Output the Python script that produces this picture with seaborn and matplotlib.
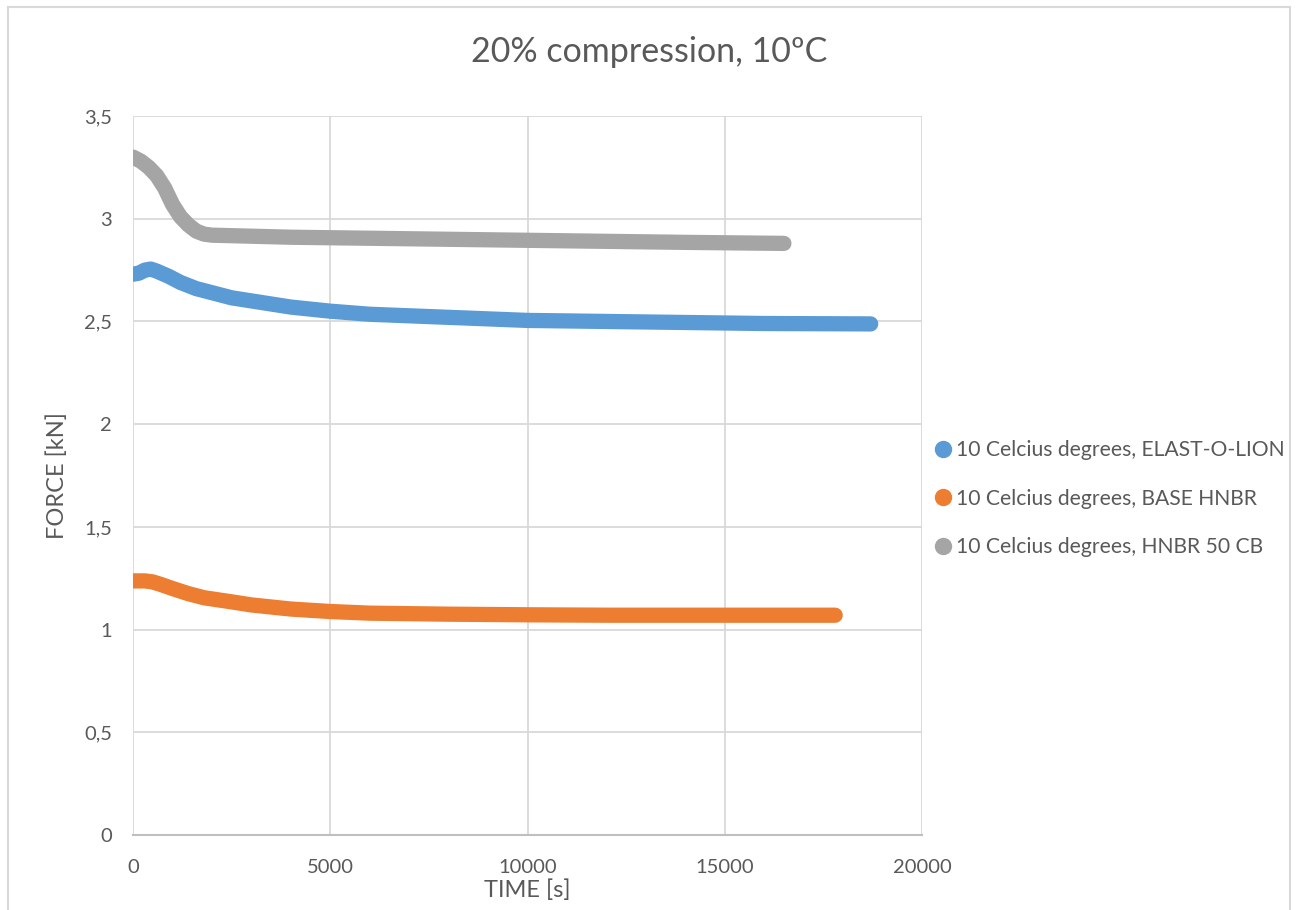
import matplotlib
matplotlib.use("Agg")
import matplotlib.pyplot as plt
from matplotlib.lines import Line2D
from matplotlib.patches import Rectangle
import pandas as pd
import seaborn as sns

# Relaxation data at 10 °C, 20 % compression
series_names = [
    "10 Celcius degrees, ELAST-O-LION",
    "10 Celcius degrees, BASE HNBR",
    "10 Celcius degrees, HNBR 50 CB",
]

elast_time = [0, 150, 300, 450, 600, 900, 1200, 1600, 2000, 2500, 3000, 3500,
              4000, 5000, 6000, 8000, 10000, 12000, 14000, 16000, 18700]
elast_force = [2.73, 2.735, 2.75, 2.755, 2.745, 2.72, 2.69, 2.66, 2.64, 2.615, 2.60,
               2.585, 2.57, 2.55, 2.535, 2.52, 2.505, 2.50, 2.495, 2.49, 2.488]

base_time = [0, 300, 500, 700, 1000, 1400, 1800, 2500, 3000, 4000, 5000, 6000,
             8000, 10000, 12000, 15000, 17800]
base_force = [1.237, 1.237, 1.232, 1.22, 1.20, 1.175, 1.155, 1.135, 1.12, 1.10,
              1.088, 1.08, 1.075, 1.072, 1.07, 1.07, 1.07]

cb_time = [0, 200, 400, 600, 800, 1000, 1200, 1400, 1600, 1800, 2000, 3000, 4000,
           6000, 8000, 10000, 12000, 14000, 16500]
cb_force = [3.30, 3.28, 3.25, 3.21, 3.15, 3.07, 3.01, 2.97, 2.94, 2.925, 2.92, 2.915,
            2.91, 2.905, 2.90, 2.895, 2.89, 2.885, 2.88]

x_ticks = [0, 5000, 10000, 15000, 20000]
y_ticks = [0, 0.5, 1, 1.5, 2, 2.5, 3, 3.5]
y_tick_labels = ["0", "0,5", "1", "1,5", "2", "2,5", "3", "3,5"]

colors = ["#5B9BD5", "#ED7D31", "#A5A5A5"]
text_color = "#595959"
grid_color = "#D9D9D9"

frames = []
for name, t, f in zip(series_names,
                      [elast_time, base_time, cb_time],
                      [elast_force, base_force, cb_force]):
    frames.append(pd.DataFrame({"time": t, "force": f, "series": name}))
df = pd.concat(frames, ignore_index=True)

sns.set_theme(style="white")
plt.rcParams["font.family"] = ["Lato", "DejaVu Sans"]

fig = plt.figure(figsize=(12.98, 9.10), dpi=100)
ax = fig.add_axes([0.1025, 0.0824, 0.6078, 0.7901])

sns.lineplot(data=df, x="time", y="force", hue="series", palette=colors,
             hue_order=series_names, linewidth=11, ax=ax, legend=False,
             sort=False, estimator=None)
for line in ax.lines:
    line.set_solid_capstyle("round")
    line.set_solid_joinstyle("round")

ax.set_xlim(0, 20000)
ax.set_ylim(0, 3.5)
ax.set_xticks(x_ticks)
ax.set_xticklabels([str(v) for v in x_ticks])
ax.set_yticks(y_ticks)
ax.set_yticklabels(y_tick_labels)
ax.grid(True, color=grid_color, linewidth=1.3)
ax.set_axisbelow(True)
for side in ["left", "right", "top"]:
    ax.spines[side].set_visible(False)
ax.spines["bottom"].set_color("#BFBFBF")
ax.spines["bottom"].set_linewidth(1.5)
ax.tick_params(axis="both", length=0, labelsize=14.5, labelcolor=text_color)
ax.tick_params(axis="x", pad=17.5)
ax.tick_params(axis="y", pad=15)

ax.set_xlabel("TIME [s]", fontsize=17, color=text_color, labelpad=2)
ax.set_ylabel("FORCE [kN]", fontsize=17, color=text_color, labelpad=12)

fig.text(0.5, 0.943, "20% compression, 10ºC", ha="center", va="center",
         fontsize=24.5, color=text_color)

handles = [Line2D([0], [0], marker="o", linestyle="none", markersize=11.5,
                  markerfacecolor=c, markeredgecolor=c) for c in colors]
fig.legend(handles, series_names, loc="center left",
           bbox_to_anchor=(0.710, 0.452), frameon=False, fontsize=15.2,
           labelcolor=text_color, handletextpad=0.05, labelspacing=1.35,
           handlelength=1.2, borderaxespad=0)

fig.patches.append(Rectangle((0.006, -0.01), 0.988, 1.0023, transform=fig.transFigure,
                             fill=False, edgecolor="#D9D9D9", linewidth=1.5))

fig.savefig("out.png", dpi=100, facecolor="white")
